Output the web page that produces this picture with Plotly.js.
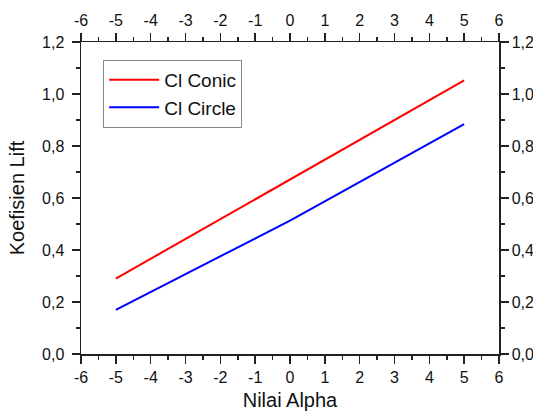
<!DOCTYPE html>
<html>
<head>
<meta charset="utf-8">
<script src="https://cdn.plot.ly/plotly-3.0.1.min.js"></script>
<style>html,body{margin:0;padding:0;background:#fff;}#chart{width:533px;height:411px;}</style>
</head>
<body>
<div id="chart"></div>
<script>
var alpha = [-5, 0, 5];
var clConic = [0.29, 0.67, 1.052];
var clCircle = [0.17, 0.513, 0.884];
var xTicks = [-6, -5, -4, -3, -2, -1, 0, 1, 2, 3, 4, 5, 6];
var yTicks = [0, 0.2, 0.4, 0.6, 0.8, 1.0, 1.2];

var font = "Liberation Sans, Arial, sans-serif";
var axisCommon = {
  showgrid: false, zeroline: false, showline: true, linecolor: '#222', linewidth: 1.5,
  ticks: 'outside', ticklen: 8, tickwidth: 1.5, tickcolor: '#222',
  tickfont: {family: font, size: 16, color: '#111'}
};
function ax(extra) { return Object.assign({}, axisCommon, extra); }

var traces = [
  {x: alpha, y: clConic, mode: 'lines', name: 'Cl Conic', line: {color: '#ff0000', width: 2}},
  {x: alpha, y: clCircle, mode: 'lines', name: 'Cl Circle', line: {color: '#0000ff', width: 2}},
  {x: [], y: [], xaxis: 'x2', yaxis: 'y2', mode: 'lines', showlegend: false, hoverinfo: 'skip'}
];

var layout = {
  width: 533, height: 411,
  margin: {l: 81, r: 34, t: 42, b: 57},
  paper_bgcolor: '#fff', plot_bgcolor: '#fff',
  separators: ', ',
  showlegend: true,
  font: {family: font, color: '#111'},
  xaxis: ax({range: [-6, 6], tickvals: xTicks, ticktext: xTicks.map(String),
    minor: {dtick: 0.5, ticks: 'outside', ticklen: 4, tickwidth: 1.5, tickcolor: '#222'},
    title: {text: 'Nilai Alpha', font: {family: font, size: 20, color: '#111'}, standoff: 9}}),
  xaxis2: ax({range: [-6, 6], overlaying: 'x', side: 'top', tickvals: xTicks, ticktext: xTicks.map(String),
    minor: {dtick: 0.5, ticks: 'outside', ticklen: 4, tickwidth: 1.5, tickcolor: '#222'}}),
  yaxis: ax({range: [0, 1.2], tickvals: yTicks, tickformat: '.1f', ticklabelstandoff: 4,
    minor: {dtick: 0.1, ticks: 'outside', ticklen: 4, tickwidth: 1.5, tickcolor: '#222'},
    title: {text: 'Koefisien Lift', font: {family: font, size: 20, color: '#111'}, standoff: 12}}),
  yaxis2: ax({range: [0, 1.2], overlaying: 'y', side: 'right', tickvals: yTicks, tickformat: '.1f',
    minor: {dtick: 0.1, ticks: 'outside', ticklen: 4, tickwidth: 1.5, tickcolor: '#222'}}),
  legend: {x: 0.053, y: 0.943, xanchor: 'left', yanchor: 'top',
    bordercolor: '#888', borderwidth: 1, bgcolor: '#fff',
    font: {family: font, size: 19, color: '#111'}, itemwidth: 50, tracegroupgap: 0}
};

Plotly.newPlot('chart', traces, layout, {displayModeBar: false, staticPlot: true});
</script>
</body>
</html>
